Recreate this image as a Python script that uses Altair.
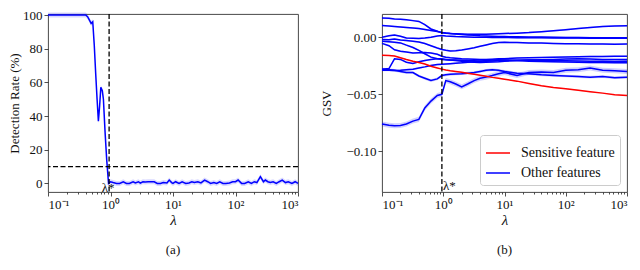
import altair as alt
import pandas as pd

FONT = "Liberation Serif"

# ---------------- panel (a): detection rate ----------------
lam_a = [0.1, 0.15, 0.2, 0.25, 0.3, 0.35, 0.4, 0.43, 0.46, 0.49, 0.52, 0.55, 0.58, 0.61,
         0.64, 0.67, 0.7, 0.74, 0.77, 0.82, 0.87, 0.93, 1.0, 1.1, 1.25, 1.4, 1.6, 1.8, 2.0,
         2.3, 2.5, 2.8, 3.0, 3.3, 3.6, 4.0, 4.5, 5.0, 5.6, 6.3, 7.0, 8.0, 8.7, 9.5, 10, 11,
         12.5, 14, 16, 18, 20, 22, 25, 28, 32, 36, 40, 45, 50, 56, 63, 70, 80, 90, 100, 110,
         125, 140, 160, 180, 200, 220, 250, 280, 300, 330, 360, 400, 450, 500, 560, 630,
         700, 800, 900, 1000]
det_rate = [100, 100, 100, 100, 100, 100, 100, 99, 97, 95, 96, 82, 65, 50,
            37, 46, 57, 55, 50, 30, 14, 0, 1, 0.5, 0, 0, 1, 0, 0,
            1, 0.3, 1, 0.2, 1, 0.8, 1, 1, 1, 0, 0, 0.5, 0.3, 2, 0.5, 0, 1,
            0, 1, 0, 0.3, 1, 0.5, 1, 0.3, 2, 1, 0, 0.5, 0, 1, 0, 0, 0.3, 1, 1, 2,
            0, 0, 1, 0, 1, 0.5, 4, 1, 2, 1, 0.5, 1, 0, 1, 2, 0.5,
            1, 0, 1, 0]
det_band = 1.5
threshold = 10
lam_star = 0.95

# ---------------- panel (b): GSV ----------------
lam_b = [0.1, 0.13, 0.16, 0.2, 0.25, 0.32, 0.4, 0.5, 0.63, 0.8, 0.95, 1.1, 1.3, 1.6, 2,
         2.5, 3.2, 4, 5, 6.3, 8, 10, 16, 25, 40, 63, 100, 160, 250, 400, 630, 1000]

sensitive = [-0.0158, -0.016, -0.0165, -0.018, -0.0195, -0.021, -0.0222, -0.0235, -0.0255,
             -0.027, -0.028, -0.0288, -0.0295, -0.030, -0.0308, -0.0316, -0.0325, -0.0334,
             -0.0343, -0.0352, -0.036, -0.0368, -0.0385, -0.0405, -0.0425, -0.044, -0.0452,
             -0.0465, -0.0478, -0.049, -0.0505, -0.051]

other1 = [0.0167, 0.0165, 0.016, 0.0158, 0.0152, 0.0145, 0.0138, 0.011, 0.0072, 0.0052, 0.0038,
          0.0035, 0.0032, 0.003, 0.0028, 0.0026, 0.0025, 0.0025, 0.0026, 0.0028, 0.003, 0.0032,
          0.0035, 0.004, 0.0048, 0.0056, 0.0066, 0.0076, 0.0085, 0.0094, 0.0098, 0.0100]
other2 = [0.0102, 0.0098, 0.0094, 0.009, 0.0085, 0.008, 0.0075, 0.0068, 0.0058, 0.005, 0.0042,
          0.0036, 0.0032, 0.0028, 0.0024, 0.002, 0.0016, 0.0012, 0.001, 0.0008, 0.0006, 0.0005,
          0.0003, 0.0002, 0.0001, 0.0, -0.0002, -0.0003, -0.0004, -0.0005, -0.0005, -0.0006]
other3 = [0.0, 0.0012, 0.0018, 0.0008, -0.0008, -0.001, -0.0012, -0.0008, 0.0, 0.001, 0.0015,
          0.001, 0.0008, 0.0005, 0.0003, 0.0002, 0.0, 0.0, -0.0001, -0.0002, -0.0002, -0.0003,
          -0.0004, -0.0005, -0.0006, -0.0007, -0.0008, -0.0008, -0.0009, -0.0009, -0.001, -0.001]
other4 = [-0.002, -0.0022, -0.0017, -0.0025, -0.003, -0.0035, -0.0042, -0.0055, -0.0075, -0.0095,
          -0.0108, -0.0115, -0.012, -0.0118, -0.0112, -0.0103, -0.0092, -0.008, -0.0068, -0.0056,
          -0.0047, -0.0045, -0.0047, -0.005, -0.0052, -0.0055, -0.0057, -0.0058, -0.006, -0.0059,
          -0.0061, -0.006]
other5 = [-0.0054, -0.0075, -0.011, -0.0124, -0.013, -0.0138, -0.0137, -0.0135, -0.0138, -0.015,
          -0.0167, -0.0175, -0.018, -0.0185, -0.019, -0.0192, -0.0194, -0.0195, -0.0195, -0.0193,
          -0.019, -0.0188, -0.0183, -0.018, -0.0178, -0.0175, -0.0173, -0.0172, -0.017, -0.0169,
          -0.0168, -0.0167]
other6 = [-0.028, -0.0275, -0.019, -0.0195, -0.022, -0.023, -0.0215, -0.0205, -0.0195, -0.019,
          -0.019, -0.0195, -0.02, -0.0205, -0.021, -0.0215, -0.022, -0.0222, -0.022, -0.0218,
          -0.0215, -0.021, -0.0205, -0.02, -0.0198, -0.0195, -0.0192, -0.019, -0.0192, -0.0195,
          -0.0195, -0.0195]
other7 = [-0.029, -0.029, -0.0292, -0.029, -0.0285, -0.028, -0.027, -0.026, -0.0248, -0.024,
          -0.0237, -0.0235, -0.0232, -0.0228, -0.0225, -0.022, -0.0215, -0.021, -0.0205, -0.02,
          -0.0198, -0.02, -0.0205, -0.021, -0.0212, -0.0215, -0.0218, -0.022, -0.0222, -0.0222,
          -0.0223, -0.0225]
other8 = [-0.028, -0.0285, -0.029, -0.030, -0.031, -0.031, -0.034, -0.036, -0.038, -0.0365,
          -0.0336, -0.033, -0.0325, -0.0322, -0.032, -0.0315, -0.031, -0.030, -0.029, -0.0285,
          -0.029, -0.030, -0.0315, -0.032, -0.033, -0.0335, -0.034, -0.0345, -0.035, -0.0345,
          -0.0355, -0.035]
other9 = [-0.0035, -0.004, -0.0045, -0.005, -0.007, -0.009, -0.0115, -0.0145, -0.0175, -0.0188,
          -0.0195, -0.0198, -0.02, -0.02, -0.0202, -0.0205, -0.0207, -0.0208, -0.021, -0.0208,
          -0.0205, -0.0203, -0.0202, -0.02, -0.0202, -0.0205, -0.0207, -0.0208, -0.021, -0.021,
          -0.0212, -0.021]
other10 = [-0.076, -0.0772, -0.0775, -0.0774, -0.076, -0.0735, -0.072, -0.062, -0.056, -0.051,
           -0.050, -0.038, -0.039, -0.041, -0.0435, -0.041, -0.038, -0.036, -0.035, -0.0336,
           -0.032, -0.031, -0.0335, -0.031, -0.0305, -0.031, -0.029, -0.0285, -0.027, -0.029,
           -0.0295, -0.030]
others = [other1, other2, other3, other4, other5, other6, other7, other8, other9, other10]
other_band = [0.0007, 0.0007, 0.0007, 0.0007, 0.0007, 0.0007, 0.0008, 0.0012, 0.0008, 0.0022]
sens_band = 0.0004

groups = ["Sensitive feature", "Other features"]
group_colors = ["#ff0000", "#0000ff"]

xticks = [0.1, 1, 10, 100, 1000]
minor_ticks = [m * 10 ** e for e in range(-1, 3) for m in range(2, 10)]
ya_ticks = [0, 20, 40, 60, 80, 100]
yb_ticks = [-0.10, -0.05, 0.0]

# ---------- data frames ----------
df_a = pd.DataFrame({"lam": lam_a, "det": det_rate})
df_a["lo"] = df_a["det"] - det_band
df_a["hi"] = df_a["det"] + det_band

rows = []
for i, vals in enumerate(others):
    for l, v in zip(lam_b, vals):
        rows.append({"lam": l, "gsv": v, "series": f"o{i}", "group": "Other features",
                     "lo": v - other_band[i], "hi": v + other_band[i], "ord": 0})
for l, v in zip(lam_b, sensitive):
    rows.append({"lam": l, "gsv": v, "series": "s", "group": "Sensitive feature",
                 "lo": v - sens_band, "hi": v + sens_band, "ord": 1})
df_b = pd.DataFrame(rows)

df_star = pd.DataFrame({"lam": [lam_star], "label": ["λ*"]})
df_thr = pd.DataFrame({"thr": [threshold]})

# ---------- shared x axis (log, major + minor ticks) ----------
is_major = "abs(log(datum.value) / LN10 - round(log(datum.value) / LN10)) < 1e-6"
label_expr = ("(" + is_major + ") ? '10' + ['\u207b\u00b9', '\u2070', '\u00b9', '\u00b2', '\u00b3']"
              "[round(log(datum.value) / LN10) + 1] : ''")
xscale = alt.Scale(type="log", domain=[0.1, 1000], nice=False)
x_axis = alt.Axis(values=xticks + minor_ticks, labelExpr=label_expr, title="λ",
                  titleFontStyle="italic", tickSize={"condition": {"test": is_major, "value": 4},
                                                     "value": 2},
                  tickCount=100,
                  labelPadding=2, titlePadding=1, titleFontSize=15, grid=False, domain=False,
                  labelOverlap=False, labelFont=FONT, labelFontSize=13, titleFont=FONT)

X_MAIN = alt.X("lam:Q", scale=xscale, axis=x_axis)
X = alt.X("lam:Q", scale=xscale)

# ---------- panel a ----------
ya_scale = alt.Scale(domain=[-5.1, 100.6], nice=False, zero=False)
ya_axis = alt.Axis(values=ya_ticks, tickCount=20, title="Detection Rate (%)", format="d",
                   tickSize=4, grid=False, domain=False, titlePadding=1, labelPadding=2,
                   labelOverlap=False, labelFont=FONT, labelFontSize=13, titleFont=FONT,
                   titleFontSize=13)

band_a = alt.Chart(df_a).mark_area(color="#0000ff", opacity=0.15).encode(
    x=X_MAIN,
    y=alt.Y("lo:Q", scale=ya_scale, axis=ya_axis),
    y2="hi:Q",
)
line_a = alt.Chart(df_a).mark_line(color="#0000ff", strokeWidth=1.5).encode(
    x=X, y=alt.Y("det:Q", scale=ya_scale, axis=ya_axis),
)
hrule_a = alt.Chart(df_thr).mark_rule(color="black", strokeDash=[5, 2.5], strokeWidth=1.3).encode(
    y=alt.Y("thr:Q", scale=ya_scale, axis=ya_axis)
)
vrule_a = alt.Chart(df_star).mark_rule(color="black", strokeDash=[5, 2.5], strokeWidth=1.3).encode(
    x=X
)
text_a = alt.Chart(df_star).mark_text(font=FONT, fontSize=13, align="center", baseline="middle",
                                      dx=-1, color="#111").encode(
    x=X, y=alt.datum(-2.6), text="label:N"
)

panel_a = alt.layer(band_a, line_a, hrule_a, vrule_a, text_a).properties(
    width=250, height=178,
    title=alt.TitleParams("(a)", orient="bottom", offset=17, fontSize=13, font=FONT,
                          fontWeight="normal", color="#111"),
)

# ---------- panel b ----------
yb_scale = alt.Scale(domain=[-0.1356, 0.0203], nice=False, zero=False)
yb_axis = alt.Axis(values=yb_ticks, tickCount=20, title="GSV", format=".2f",
                   labelExpr="replace(datum.label, '-', '\u2212')",
                   tickSize=4, grid=False, domain=False, titlePadding=12, labelPadding=2,
                   labelOverlap=False, labelFont=FONT, labelFontSize=13, titleFont=FONT,
                   titleFontSize=13)
cscale = alt.Scale(domain=groups, range=group_colors)

band_b_other = alt.Chart(df_b).transform_filter(
    alt.datum.group == "Other features"
).mark_area(color="#0000ff", opacity=0.18).encode(
    x=X_MAIN,
    y=alt.Y("lo:Q", scale=yb_scale, axis=yb_axis),
    y2="hi:Q",
    detail="series:N",
)
band_b_sens = alt.Chart(df_b).transform_filter(
    alt.datum.group == "Sensitive feature"
).mark_area(color="#ff0000", opacity=0.18).encode(
    x=X, y=alt.Y("lo:Q", scale=yb_scale, axis=yb_axis), y2="hi:Q",
)
line_b = alt.Chart(df_b).mark_line(strokeWidth=1.5).encode(
    x=X,
    y=alt.Y("gsv:Q", scale=yb_scale, axis=yb_axis),
    color=alt.Color("group:N", scale=cscale,
                    legend=alt.Legend(title=None, orient="bottom-right", offset=7,
                                      symbolType="stroke", symbolSize=576, symbolStrokeWidth=1.5,
                                      labelFontSize=14, labelFont=FONT, labelOffset=10,
                                      rowPadding=0, padding=5, cornerRadius=3,
                                      strokeColor="#cccccc", fillColor="rgba(255,255,255,0.85)",
                                      labelColor="#111")),
    detail="series:N",
    order="ord:Q",
)
vrule_b = alt.Chart(df_star).mark_rule(color="black", strokeDash=[5, 2.5], strokeWidth=1.3).encode(
    x=X
)
text_b = alt.Chart(df_star).mark_text(font=FONT, fontSize=13, align="left", baseline="middle",
                                      dx=1, color="#111111").encode(
    x=X, y=alt.datum(-0.1305), text="label:N"
)

panel_b = alt.layer(band_b_other, band_b_sens, line_b, vrule_b, text_b).properties(
    width=245, height=178,
    title=alt.TitleParams("(b)", orient="bottom", offset=17, fontSize=13, font=FONT,
                          fontWeight="normal", color="#111"),
)

chart = alt.hconcat(panel_a, panel_b, spacing=84, bounds="flush").resolve_legend(
    color="independent"
).resolve_scale(
    color="independent"
).properties(
    padding={"left": 0, "top": 0, "right": 0, "bottom": 0}
).configure_view(
    stroke="#333333", strokeWidth=0.9
).configure_axis(
    labelFont=FONT, titleFont=FONT, labelFontSize=13, titleFontSize=13,
    labelColor="#111", titleColor="#111", tickColor="#222", tickWidth=0.8,
    titleFontWeight="normal", labelOverlap=False,
).configure_legend(
    labelFont=FONT, labelFontSize=14,
)

chart.save("out.html", embed_options={"renderer": "svg", "actions": False})
